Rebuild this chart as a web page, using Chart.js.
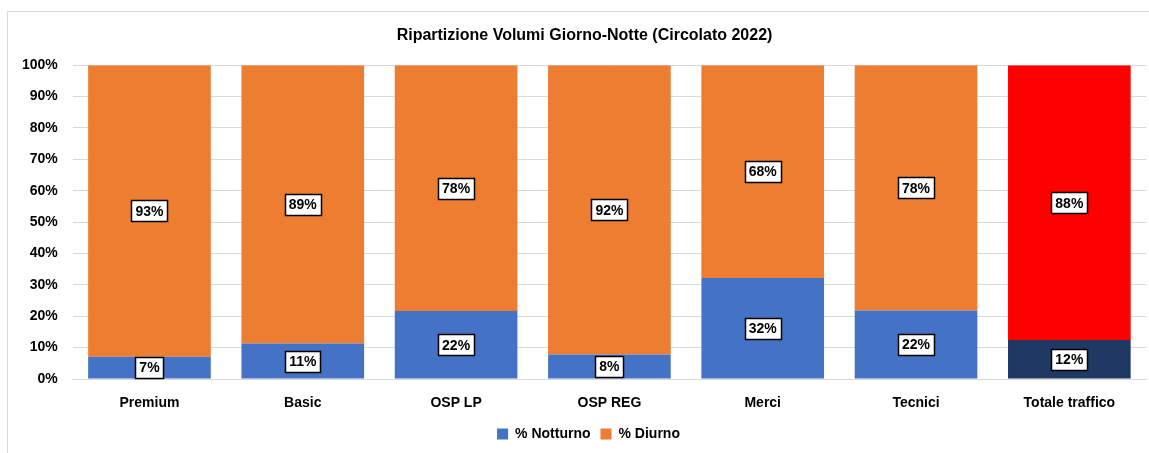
<!DOCTYPE html>
<html>
<head>
<meta charset="utf-8">
<script src="https://cdn.jsdelivr.net/npm/chart.js@4.4.0/dist/chart.umd.min.js"></script>
<style>
  html, body { margin: 0; padding: 0; background: #fff; }
  #wrap { position: relative; width: 1149px; height: 453px; }
</style>
</head>
<body>
<div id="wrap"><canvas id="volumiChart"></canvas></div>
<script>
// Chart data
const categories = ['Premium', 'Basic', 'OSP LP', 'OSP REG', 'Merci', 'Tecnici', 'Totale traffico'];
const notturno = [7.1, 11.3, 21.7, 7.8, 32.2, 21.8, 12.4];
const diurno = [92.9, 88.7, 78.3, 92.2, 67.8, 78.2, 87.6];
const yTicks = [0, 10, 20, 30, 40, 50, 60, 70, 80, 90, 100];

const FONT = "'Liberation Sans', Arial, sans-serif";

// per-bar colours: the total column is highlighted
const nightColors = categories.map((c, i) => i === categories.length - 1 ? '#203864' : '#4472C4');
const dayColors = categories.map((c, i) => i === categories.length - 1 ? '#FF0000' : '#ED7D31');

// outer frame like the spreadsheet chart area
const framePlugin = {
    id: 'frame',
    afterLayout(chart) {
        // nudge title and legend a bit to the right, as in the original
        chart.titleBlock.left += 8;
        chart.titleBlock.right += 8;
        chart.legend.left += 12;
        chart.legend.right += 12;
    },
    beforeDraw(chart) {
        const ctx = chart.ctx;
        ctx.save();
        ctx.fillStyle = '#fff';
        ctx.fillRect(0, 0, chart.width, chart.height);
        ctx.strokeStyle = '#d9d9d9';
        ctx.lineWidth = 1;
        ctx.strokeRect(7.5, 11.5, chart.width - 5, chart.height);
        ctx.restore();
    }
};

// boxed value labels in the middle of each segment
const boxLabels = {
    id: 'boxLabels',
    afterDatasetsDraw(chart) {
        const ctx = chart.ctx;
        ctx.save();
        ctx.font = 'bold 14px ' + FONT;
        ctx.textAlign = 'center';
        ctx.textBaseline = 'middle';
        chart.data.datasets.forEach((ds, di) => {
            const meta = chart.getDatasetMeta(di);
            meta.data.forEach((bar, i) => {
                const text = Math.round(ds.data[i]) + '%';
                const cx = bar.x;
                const cy = (bar.y + bar.base) / 2;
                const w = Math.round(ctx.measureText(text).width + 8);
                const h = 21;
                const x0 = Math.round(cx - w / 2) + 0.5;
                const y0 = Math.round(cy - h / 2) + 0.5;
                ctx.fillStyle = '#fff';
                ctx.fillRect(x0, y0, w, h);
                ctx.strokeStyle = '#000';
                ctx.lineWidth = 1.5;
                ctx.strokeRect(x0, y0, w, h);
                ctx.fillStyle = '#000';
                ctx.fillText(text, cx, cy + 1);
            });
        });
        ctx.restore();
    }
};

const ctx = document.getElementById('volumiChart');
new Chart(ctx, {
    type: 'bar',
    data: {
        labels: categories,
        datasets: [
            {
                label: '% Notturno',
                data: notturno,
                backgroundColor: nightColors,
                borderWidth: 0
            },
            {
                label: '% Diurno',
                data: diurno,
                backgroundColor: dayColors,
                borderWidth: 0
            }
        ]
    },
    options: {
        responsive: true,
        maintainAspectRatio: false,
        animation: false,
        datasets: {
            bar: {
                categoryPercentage: 1,
                barPercentage: 0.8
            }
        },
        layout: {
            padding: { top: 18, left: 7, right: 3, bottom: 2 }
        },
        plugins: {
            title: {
                display: true,
                text: 'Ripartizione Volumi Giorno-Notte (Circolato 2022)',
                color: '#000',
                font: { family: FONT, size: 16, weight: 'bold' },
                padding: { top: 8, bottom: 20 }
            },
            legend: {
                display: true,
                position: 'bottom',
                labels: {
                    color: '#000',
                    boxWidth: 11,
                    boxHeight: 11,
                    padding: 10,
                    font: { family: FONT, size: 14, weight: 'bold' },
                    generateLabels(chart) {
                        return chart.data.datasets.map((ds, i) => ({
                            text: ds.label,
                            fillStyle: i === 0 ? '#4472C4' : '#ED7D31',
                            strokeStyle: 'transparent',
                            lineWidth: 0,
                            datasetIndex: i
                        }));
                    }
                }
            },
            tooltip: { enabled: false }
        },
        scales: {
            x: {
                stacked: true,
                grid: { display: false },
                border: { display: true, color: '#d9d9d9', width: 1 },
                ticks: {
                    color: '#000',
                    padding: 8,
                    font: { family: FONT, size: 14, weight: 'bold' }
                },
                afterFit(scale) {
                    scale.height = 38;
                }
            },
            y: {
                stacked: true,
                min: 0,
                max: 100,
                afterBuildTicks(axis) {
                    axis.ticks = yTicks.map(v => ({ value: v }));
                },
                grid: { color: '#d9d9d9', drawTicks: false },
                border: { display: false },
                ticks: {
                    color: '#000',
                    padding: 15,
                    font: { family: FONT, size: 14, weight: 'bold' },
                    callback: v => v + '%'
                }
            }
        }
    },
    plugins: [framePlugin, boxLabels]
});
</script>
</body>
</html>
